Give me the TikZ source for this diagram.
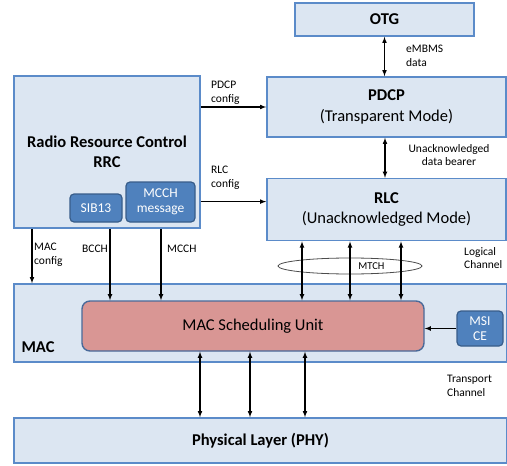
\documentclass[tikz,border=0pt]{standalone}
\usepackage{fontspec}
\setmainfont{Carlito}
\usepackage{tikz}
\usetikzlibrary{shapes.geometric}
\usetikzlibrary{positioning}
\definecolor{layerfill}{HTML}{DCE6F2}
\definecolor{layerline}{HTML}{5B8BC9}
\definecolor{blkfill}{HTML}{4F81BD}
\definecolor{blkline}{HTML}{385D8A}
\definecolor{schedfill}{HTML}{D99694}
\definecolor{schedline}{HTML}{4A6A9A}
\begin{document}
\begin{tikzpicture} [ x=1pt, y=-1pt, >=latex,
    layer/.style={rectangle, draw=layerline, fill=layerfill, line width=1.6pt,
    inner sep=0pt, align=center, font=\fontsize{16.5}{20.5}\selectfont},
    blk/.style={rectangle, rounded corners=4pt, draw=blkline, fill=blkfill,
    line width=1.2pt, inner sep=0pt, text=white, align=center,
    font=\fontsize{13.5}{15}\selectfont},
    sched/.style={rectangle, rounded corners=8pt, draw=schedline, fill=schedfill,
    line width=1.4pt, inner sep=0pt, font=\fontsize{16.5}{20}\selectfont},
    lbl/.style={inner sep=0pt, align=left, font=\fontsize{11.5}{13.5}\selectfont},
    con/.style={line width=1.1pt}
    ]
    \useasboundingbox (0,0) rectangle (507,466);
    \node (rrc) [layer, minimum width=186pt, minimum height=152pt] at (107,152)
     {\textbf{Radio Resource Control}\\ \textbf{RRC}};
    \node (sib) [blk, minimum width=52pt, minimum height=28pt] at (96,208) {SIB13};
    \node (mcch) [blk, minimum width=69pt, minimum height=40pt] at (160.5,202)
     {MCCH\\message};
    \node (otg) [layer, minimum width=179pt, minimum height=33pt] at (384.5,19.5)
     {\textbf{OTG}};
    \node (pdcp) [layer, minimum width=239pt, minimum height=60pt] at (386.5,107)
     {\textbf{PDCP}\\(Transparent Mode)};
    \node (rlc) [layer, minimum width=239pt, minimum height=62pt, below=40pt of pdcp]
     {\textbf{RLC}\\(Unacknowledged Mode)};
    \node (mac) [layer, minimum width=493pt, minimum height=78pt] at (260.5,323) {};
    \node (maclbl) [inner sep=0pt, font=\fontsize{16.5}{20}\selectfont\bfseries]
     at (38,347) {MAC};
    \node (msu) [sched, minimum width=342pt, minimum height=50pt] at (253,326)
     {MAC Scheduling Unit};
    \node (msi) [blk, minimum width=46pt, minimum height=35pt] at (480,328.5)
     {MSI\\CE};
    \node (phy) [layer, minimum width=493pt, minimum height=45pt] at (260.5,440.5)
     {\textbf{Physical Layer (PHY)}};
    \node (mtch) [ellipse, draw=black!70, line width=0.8pt, minimum width=144pt,
     minimum height=16pt, inner sep=0pt] at (350,266) {};
    \node (mtchlbl) [inner sep=0pt, font=\fontsize{10.5}{12}\selectfont]
     at (371.5,266) {MTCH};

    \node (pdcpcfg) [lbl, anchor=west] at (211,93) {PDCP\\config};
    \node (rlccfg) [lbl, anchor=west] at (211,178) {RLC\\config};
    \node (embms) [lbl, anchor=west] at (406,56) {eMBMS\\data};
    \node (bearer) [lbl, align=center] at (449,155) {Unacknowledged\\data bearer};
    \node (logch) [lbl, anchor=west] at (464,258) {Logical\\Channel};
    \node (trch) [lbl, anchor=west] at (447,386) {Transport\\Channel};
    \node (maccfg) [lbl, anchor=west] at (34,255) {MAC\\config};
    \node (bcch) [lbl, anchor=east] at (108,249) {BCCH};
    \node (mcchlbl) [lbl, anchor=west] at (167,249) {MCCH};

     \draw [con, ->] (rrc.east |- pdcp.west) -- (pdcp.west);
     \draw [con, ->] ([yshift=8pt]rrc.east |- rlc.west) -- ([yshift=8pt]rlc.west);
     \draw [con, <->] (otg.south) -- (otg.south |- pdcp.north);
     \draw [con, <->] ([xshift=-1.5pt]pdcp.south) -- ([xshift=-1.5pt]rlc.north);
     \foreach \d in {-84.5,-36.5,14.5}
       \draw [con, <->] ([xshift=\d pt]rlc.south) -- ([xshift=\d pt]rlc.south |- msu.north);
     \draw [con, ->] ([xshift=-75pt]rrc.south) -- ([xshift=-75pt]rrc.south |- mac.north);
     \foreach \d in {3,54}
       \draw [con, ->] ([xshift=\d pt]rrc.south) -- ([xshift=\d pt]rrc.south |- msu.north);
     \draw [con, ->] (msi.west) -- (msi.west -| msu.east);
     \foreach \d in {-53,-3,52}
       \draw [con, <->] ([xshift=\d pt]msu.south) -- ([xshift=\d pt]msu.south |- phy.north);
  \end{tikzpicture}
\end{document}
